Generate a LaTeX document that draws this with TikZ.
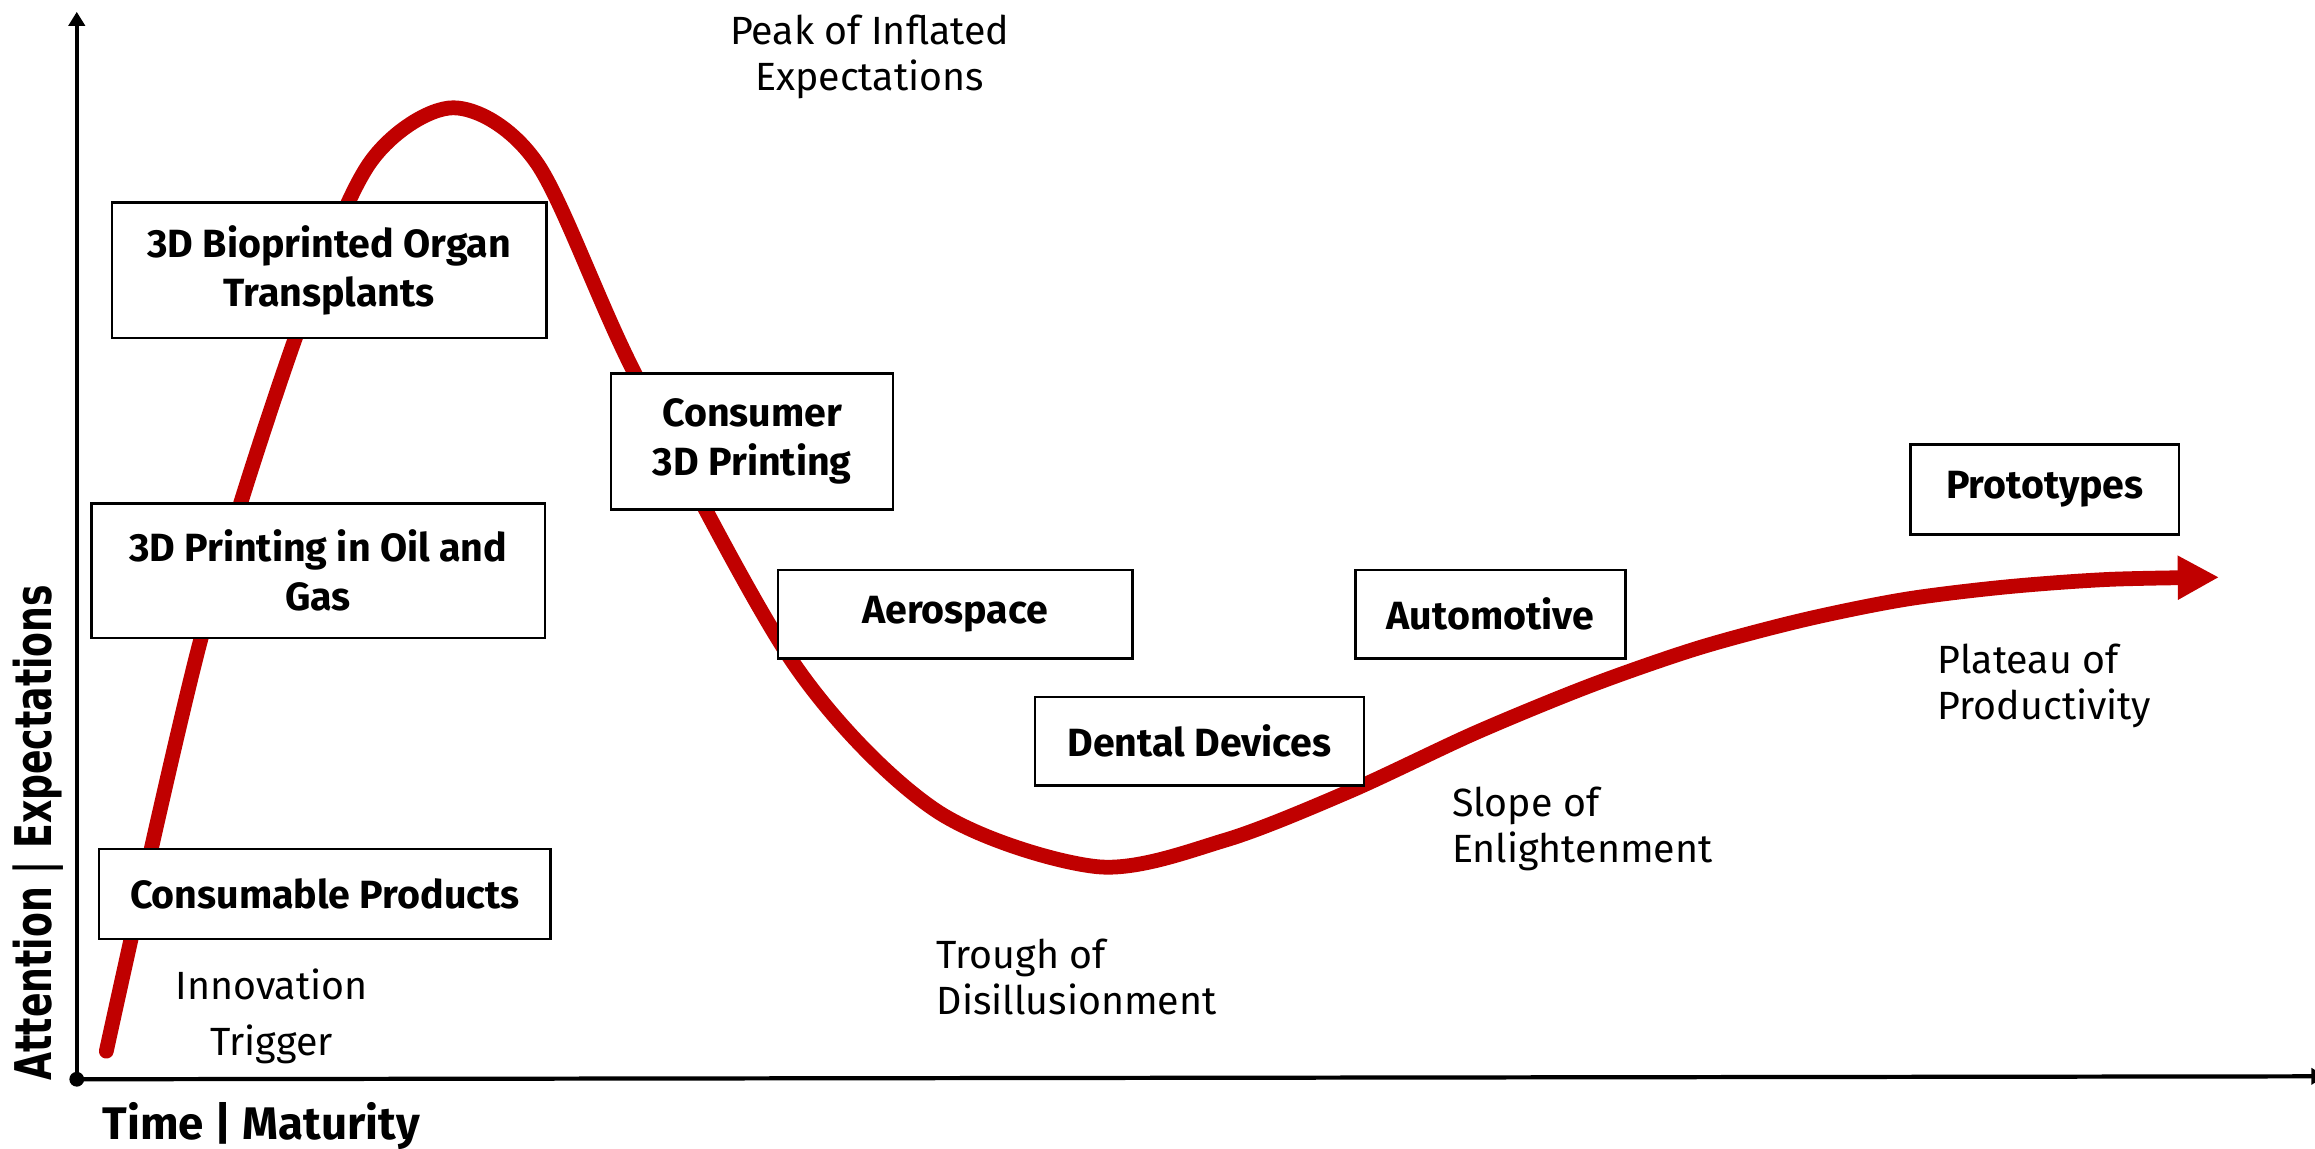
\documentclass[tikz,border=0pt]{standalone}
\usepackage{fontspec}
\setmainfont{Fira Sans}
\newfontfamily\axisfont{DejaVu Sans}
\usetikzlibrary{arrows.meta}
\definecolor{hypered}{HTML}{C00000}
\def\pxu{0.14764mm}
\tikzset{
	stage/.style={draw=black, line width=0.7pt, fill=white, align=center, inner sep=0pt, font=\bfseries\fontsize{11.2}{14}\selectfont},
	phase/.style={align=left, inner sep=0pt, font=\fontsize{11.2}{13}\selectfont},
	axis/.style={line width=1.2pt, -{Triangle[length=4pt, width=4.6pt]}},
	hype/.style={hypered, line width=4.2pt, line cap=round, -{Triangle[length=4.13mm, width=4.13mm]}}
}

\begin{document}
\begin{tikzpicture}[x=\pxu, y=-\pxu]
		\useasboundingbox (0,0) rectangle (1568,778);
		% axes
		\coordinate (origin) at (52,731);
		\coordinate (ytop) at (52,8);
		\coordinate (xend) at (1575,729);
		\draw[axis] (origin) -- (ytop);
		\draw[axis] (origin) -- (xend);
		\fill (origin) circle[radius=5*\pxu];
		\node[rotate=90, anchor=base, inner sep=0pt, font=\axisfont\bfseries\fontsize{14.4}{16}\selectfont] (attention) at (35,564) {\scalebox{0.716}[1]{Attention | Expectations}};
		\node[anchor=base west, inner sep=0pt, font=\bfseries\fontsize{13}{15}\selectfont] (maturity) at (69,772) {Time | Maturity};
		% hype curve
		\draw[hype] plot[smooth, tension=0.5] coordinates {(72,712) (136,433) (200,229) (250,111) (307,73) (364,111) (430,253) (538,450) (634,549) (743,587) (830,569) (914,536) (999,496.5) (1077,464.4) (1150,439) (1221,420) (1290,406) (1359,397.5) (1429,392.4) (1503,391)};
		% phases
		\node[phase, align=center, anchor=base] (peak) at (589,61) {Peak of Inflated\\Expectations};
		\node[phase, align=center, anchor=base] (trigger) at (184,715) {Innovation\\[3pt]Trigger};
		\node[phase, anchor=base west] (trough) at (634,687) {Trough of\\Disillusionment};
		\node[phase, anchor=base west] (slope) at (983,584) {Slope of\\Enlightenment};
		\node[phase, anchor=base west] (plateau) at (1312,487) {Plateau of\\Productivity};
		% technologies
		\node[stage, minimum width=294*\pxu, minimum height=92*\pxu] (bioprint) at (223,183) {3D Bioprinted Organ\\Transplants};
		\node[stage, minimum width=191*\pxu, minimum height=92*\pxu] (consumer) at (509.5,299) {Consumer\\3D Printing};
		\node[stage, minimum width=307*\pxu, minimum height=91*\pxu] (oilgas) at (215.5,386.5) {3D Printing in Oil and\\Gas};
		\node[stage, minimum width=240*\pxu, minimum height=60*\pxu] (aerospace) at (647,416) {Aerospace};
		\node[stage, minimum width=183*\pxu, minimum height=60*\pxu] (automotive) at (1009.5,416) {Automotive};
		\node[stage, minimum width=223*\pxu, minimum height=60*\pxu] (dental) at (812.5,502) {Dental Devices};
		\node[stage, minimum width=182*\pxu, minimum height=61*\pxu] (prototypes) at (1385,331.5) {Prototypes};
		\node[stage, minimum width=306*\pxu, minimum height=61*\pxu] (consumable) at (220,605.5) {Consumable Products};
\end{tikzpicture}
\end{document}
